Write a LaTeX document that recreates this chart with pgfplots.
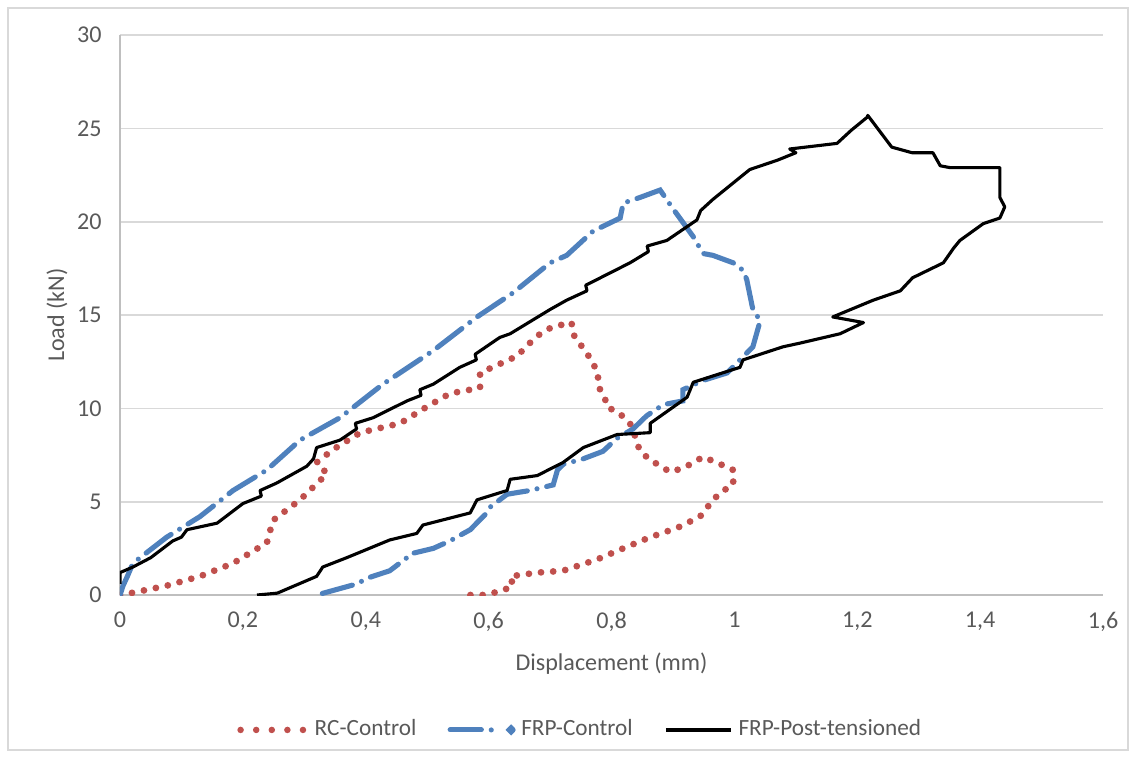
\documentclass[border=0pt]{standalone}
\usepackage{fontspec}
\setmainfont{Carlito}
\usepackage{pgfplots}
\pgfplotsset{compat=1.18}
\definecolor{rcred}{RGB}{192,80,77}
\definecolor{frpblue}{RGB}{79,129,189}
\definecolor{txt}{RGB}{89,89,89}
\definecolor{gridc}{RGB}{217,217,217}
\definecolor{axc}{RGB}{191,191,191}
\begin{document}
\begin{tikzpicture}
\useasboundingbox (-42.33pt,-57.5pt) rectangle (357.7pt,209.9pt);
\begin{axis}[
  at={(0pt,0pt)}, anchor=south west,
  scale only axis, width=346.8pt, height=197.5pt,
  xmin=0, xmax=1.6, ymin=0, ymax=30,
  xtick={0,0.2,0.4,0.6,0.8,1,1.2,1.4,1.6},
  ytick={0,5,10,15,20,25,30},
  ymajorgrids, grid style={gridc, line width=0.6pt},
  axis x line=bottom, axis y line=left,
  axis line style={-, axc, line width=0.6pt},
  major tick length=0pt,
  /pgf/number format/use comma,
  /pgf/number format/assume math mode=true,
  tick label style={font=\fontsize{8.5}{10}\selectfont, text=txt},
  xticklabel style={yshift=-2.5pt},
  yticklabel style={xshift=-3pt},
  xlabel={Displacement (mm)}, ylabel={Load (kN)},
  label style={font=\fontsize{8.5}{10}\selectfont, text=txt},
  xlabel style={yshift=-0.5pt},
  ylabel style={yshift=-3.5pt},
  legend columns=3,
  legend style={draw=none, fill=none, at={(0.470,-0.241)}, anchor=center,
    font=\fontsize{8.2}{10}\selectfont, text=txt,
    /tikz/every even column/.append style={column sep=9pt}},
]
\addplot[rcred, line width=2.4pt, dash pattern=on 0pt off 4.3pt, line cap=round,
  legend image code/.code={\draw[rcred, line width=2.3pt, dash pattern=on 0pt off 5.5pt, line cap=round] (1pt,0pt) -- (24pt,0pt);}]
coordinates {
(0,0) (0.01,0.05) (0.076,0.5) (0.13,1.0) (0.184,1.7) (0.239,2.8) (0.249,4.0)
(0.293,5.1) (0.337,6.5) (0.32,7.1) (0.347,7.8) (0.391,8.7) (0.456,9.2) (0.50,10.1)
(0.537,10.8) (0.586,11.1) (0.586,11.9) (0.646,12.8) (0.667,13.5) (0.684,14.0)
(0.700,14.3) (0.721,14.5) (0.735,14.6) (0.737,14.0) (0.765,12.7) (0.778,11.9)
(0.778,11.2) (0.789,10.6) (0.792,10.1) (0.814,9.7) (0.830,9.2) (0.841,8.3)
(0.845,7.8) (0.860,7.3) (0.895,6.6) (0.917,6.8) (0.933,7.1) (0.949,7.4)
(0.971,7.1) (0.998,6.7) (0.998,5.9) (0.977,5.5) (0.963,5.0) (0.944,4.2)
(0.907,3.6) (0.863,3.1) (0.819,2.5) (0.776,1.9) (0.721,1.3) (0.679,1.2)
(0.635,1.0) (0.64,0.5) (0.62,0.2) (0.59,0) (0.558,0)
};
\addlegendentry{RC-Control}
\addplot[frpblue, line width=1.8pt, dash pattern=on 11pt off 3.5pt on 0pt off 3.5pt, line cap=round,
  legend image code/.code={\draw[frpblue, line width=1.8pt, line cap=round] (0pt,0pt) -- (15pt,0pt); \fill[frpblue] (21.5pt,0pt) circle (0.7pt);}]
coordinates {
(0,0) (0.005,0.5) (0.012,1.0) (0.021,1.7) (0.076,3.1) (0.13,4.2) (0.184,5.6)
(0.239,6.7) (0.293,8.3) (0.358,9.5) (0.428,11.3) (0.51,13.1) (0.581,14.9)
(0.64,16.2) (0.700,17.8) (0.727,18.2) (0.770,19.5) (0.814,20.2) (0.819,21.0)
(0.846,21.3) (0.879,21.7) (0.900,20.7) (0.933,19.2) (0.949,18.3) (0.965,18.2)
(0.998,17.8) (1.014,17.4) (1.02,16.9) (1.030,15.3) (1.042,14.7) (1.03,13.3)
(1.009,12.6) (0.988,11.9) (0.949,11.5) (0.916,11.0) (0.916,10.4) (0.884,10.2)
(0.857,9.6) (0.835,8.9) (0.809,8.4) (0.786,7.7) (0.754,7.3) (0.721,7.0)
(0.712,6.7) (0.705,5.9) (0.667,5.6) (0.630,5.4) (0.602,4.7) (0.597,4.4)
(0.570,3.5) (0.537,2.9) (0.510,2.5) (0.472,2.2) (0.467,2.0) (0.439,1.3)
(0.402,0.9) (0.386,0.6) (0.353,0.3) (0.32,0)
};
\addlegendentry{FRP-Control}
\addplot[black, line width=1.1pt, line join=round,
  legend image code/.code={\draw[black, line width=1.3pt] (0pt,0pt) -- (23pt,0pt);}]
coordinates {
(0,0.6) (0,1.2) (0.021,1.5) (0.05,2.0) (0.086,2.9) (0.1,3.1) (0.109,3.5) (0.158,3.85)
(0.2,4.9) (0.23,5.3) (0.228,5.6) (0.255,6.0) (0.304,6.9) (0.315,7.3) (0.32,7.9)
(0.358,8.3) (0.385,8.9) (0.383,9.2) (0.412,9.5) (0.467,10.4) (0.49,10.7)
(0.488,11.0) (0.51,11.3) (0.553,12.2) (0.58,12.6) (0.578,12.9) (0.618,13.8)
(0.635,14.0) (0.70,15.3) (0.727,15.8) (0.76,16.3) (0.758,16.6) (0.83,17.8)
(0.86,18.4) (0.858,18.7) (0.89,19.0) (0.939,20.1) (0.945,20.6) (0.965,21.2)
(1.025,22.8) (1.07,23.3) (1.10,23.7) (1.09,23.9) (1.167,24.2) (1.19,24.9)
(1.216,25.6) (1.217,25.7) (1.256,24.0) (1.289,23.7) (1.323,23.7) (1.335,23.0)
(1.351,22.9) (1.432,22.9) (1.432,21.3) (1.44,20.8) (1.432,20.2) (1.405,19.9)
(1.367,19.0) (1.357,18.6) (1.34,17.8) (1.29,17.0) (1.27,16.3) (1.226,15.8)
(1.16,14.9) (1.21,14.6) (1.172,14.0) (1.107,13.5) (1.079,13.3) (1.014,12.6)
(1.009,12.2) (0.933,11.4) (0.923,10.6) (0.863,9.2) (0.863,8.7) (0.809,8.6)
(0.754,7.9) (0.721,7.1) (0.679,6.4) (0.635,6.2) (0.630,5.6) (0.581,5.1)
(0.570,4.4) (0.493,3.75) (0.483,3.3) (0.439,2.95) (0.369,2.0) (0.330,1.5)
(0.32,1.0) (0.256,0.1) (0.223,0)
};
\addlegendentry{FRP-Post-tensioned}
\end{axis}
\draw[gridc, line width=0.6pt] (-39.5pt,-54.7pt) rectangle (355.6pt,207.1pt);
\end{tikzpicture}
\end{document}
